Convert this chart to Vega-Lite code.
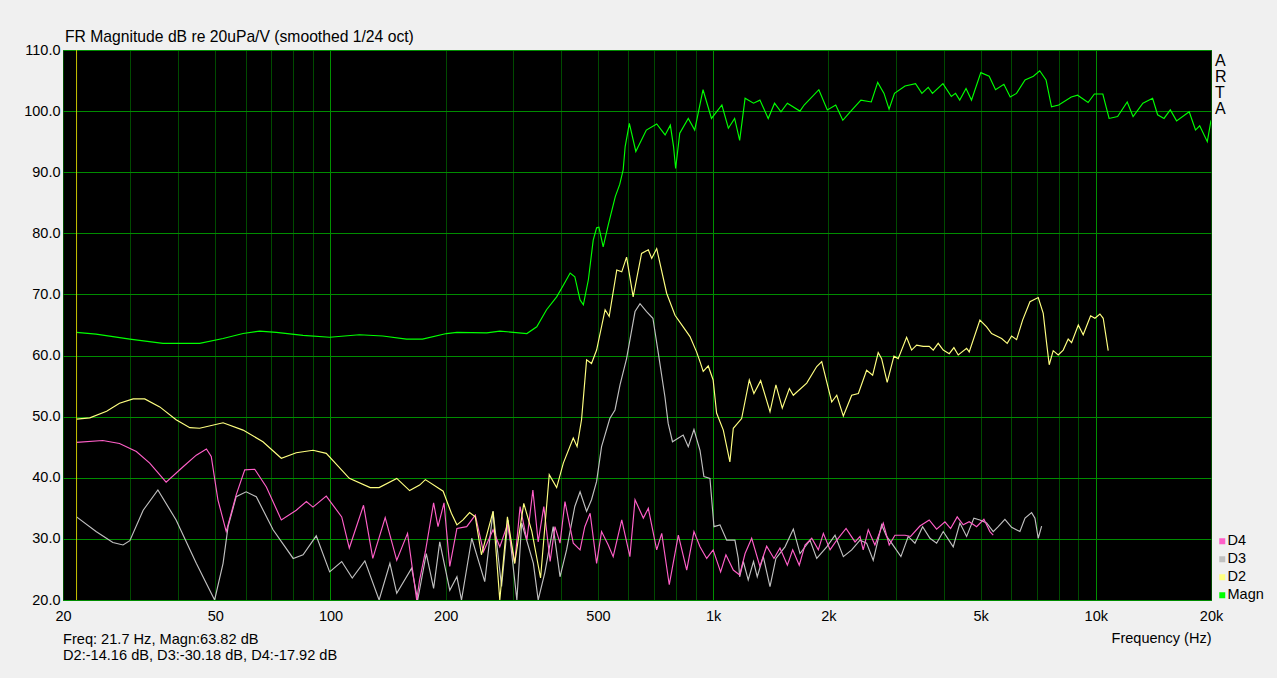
{
"$schema": "https://vega.github.io/schema/vega-lite/v6.json",
"width": 1148, "height": 550,
"autosize": {"type": "none"},
"padding": {"left": 63, "top": 50, "right": 66, "bottom": 78},
"background": "#f0f0f0",
"config": {
  "font": "Liberation Sans",
  "view": {"fill": "#000000", "stroke": "#008c00", "strokeWidth": 1},
  "axis": {"domain": false, "ticks": false, "tickSize": 0, "labelFontSize": 14.5, "labelColor": "#000000", "labelFont": "Liberation Sans", "titleFont": "Liberation Sans", "titleFontSize": 14.5, "titleFontWeight": "normal", "titleColor": "#000000", "gridOpacity": 1, "gridWidth": 1}
},
"title": {"text": "FR Magnitude dB re 20uPa/V (smoothed 1/24 oct)", "anchor": "start", "frame": "group", "fontSize": 15.7, "fontWeight": "normal", "color": "#000000", "offset": -4, "dx": 2, "font": "Liberation Sans"},
"datasets": {
"curves": [
{"s":"D3","f":21.7,"db":33.6},{"s":"D3","f":24.4,"db":31.2},{"s":"D3","f":27.0,"db":29.4},{"s":"D3","f":28.7,"db":29.0},{"s":"D3","f":29.9,"db":29.7},{"s":"D3","f":32.4,"db":34.7},{"s":"D3","f":35.4,"db":38.0},{"s":"D3","f":39.5,"db":33.1},{"s":"D3","f":44.6,"db":26.0},{"s":"D3","f":49.8,"db":20},{"s":"D3","f":52.4,"db":26.0},{"s":"D3","f":54.0,"db":32.0},{"s":"D3","f":56.7,"db":36.9},{"s":"D3","f":60.2,"db":37.7},{"s":"D3","f":64.0,"db":36.9},{"s":"D3","f":70.8,"db":31.5},{"s":"D3","f":79.9,"db":26.8},{"s":"D3","f":84.8,"db":27.4},{"s":"D3","f":91.8,"db":30.5},{"s":"D3","f":99.5,"db":24.6},{"s":"D3","f":107,"db":26.3},{"s":"D3","f":114,"db":23.6},{"s":"D3","f":123,"db":26.4},{"s":"D3","f":134,"db":20},{"s":"D3","f":143,"db":26.0},{"s":"D3","f":149,"db":21.1},{"s":"D3","f":163,"db":25.2},{"s":"D3","f":169,"db":20},{"s":"D3","f":178,"db":27.6},{"s":"D3","f":186,"db":21.9},{"s":"D3","f":193,"db":29.5},{"s":"D3","f":205,"db":21.6},{"s":"D3","f":214,"db":23.8},{"s":"D3","f":220,"db":20},{"s":"D3","f":234,"db":30.1},{"s":"D3","f":253,"db":23.0},{"s":"D3","f":266,"db":34.5},{"s":"D3","f":280,"db":22.2},{"s":"D3","f":291,"db":33.1},{"s":"D3","f":307,"db":20},{"s":"D3","f":316,"db":32.6},{"s":"D3","f":339,"db":26.0},{"s":"D3","f":349,"db":20},{"s":"D3","f":363,"db":24.4},{"s":"D3","f":382,"db":32.0},{"s":"D3","f":398,"db":23.8},{"s":"D3","f":414,"db":28.2},{"s":"D3","f":435,"db":35.3},{"s":"D3","f":449,"db":37.7},{"s":"D3","f":467,"db":34.5},{"s":"D3","f":481,"db":36.4},{"s":"D3","f":496,"db":39.4},{"s":"D3","f":511,"db":45.1},{"s":"D3","f":537,"db":49.7},{"s":"D3","f":554,"db":51.1},{"s":"D3","f":571,"db":55.2},{"s":"D3","f":594,"db":59.5},{"s":"D3","f":625,"db":67.2},{"s":"D3","f":644,"db":68.5},{"s":"D3","f":670,"db":67.2},{"s":"D3","f":696,"db":66.1},{"s":"D3","f":719,"db":60.4},{"s":"D3","f":748,"db":53.3},{"s":"D3","f":763,"db":48.9},{"s":"D3","f":783,"db":45.9},{"s":"D3","f":835,"db":47.0},{"s":"D3","f":861,"db":45.1},{"s":"D3","f":891,"db":47.9},{"s":"D3","f":924,"db":44.5},{"s":"D3","f":946,"db":40.2},{"s":"D3","f":981,"db":39.9},{"s":"D3","f":1005,"db":32.0},{"s":"D3","f":1042,"db":32.3},{"s":"D3","f":1085,"db":29.8},{"s":"D3","f":1140,"db":29.8},{"s":"D3","f":1163,"db":26.8},{"s":"D3","f":1173,"db":23.8},{"s":"D3","f":1199,"db":26.3},{"s":"D3","f":1235,"db":23.3},{"s":"D3","f":1275,"db":26.3},{"s":"D3","f":1304,"db":23.8},{"s":"D3","f":1352,"db":27.1},{"s":"D3","f":1408,"db":22.2},{"s":"D3","f":1459,"db":26.8},{"s":"D3","f":1541,"db":28.7},{"s":"D3","f":1620,"db":31.6},{"s":"D3","f":1687,"db":27.6},{"s":"D3","f":1791,"db":29.8},{"s":"D3","f":1865,"db":26.8},{"s":"D3","f":1981,"db":28.7},{"s":"D3","f":2082,"db":30.6},{"s":"D3","f":2189,"db":27.1},{"s":"D3","f":2302,"db":28.2},{"s":"D3","f":2420,"db":29.8},{"s":"D3","f":2518,"db":29.3},{"s":"D3","f":2620,"db":26.5},{"s":"D3","f":2756,"db":32.3},{"s":"D3","f":2840,"db":30.4},{"s":"D3","f":2927,"db":29.3},{"s":"D3","f":3095,"db":27.1},{"s":"D3","f":3234,"db":30.4},{"s":"D3","f":3368,"db":29.3},{"s":"D3","f":3527,"db":32.0},{"s":"D3","f":3686,"db":30.1},{"s":"D3","f":3837,"db":29.3},{"s":"D3","f":3993,"db":31.2},{"s":"D3","f":4240,"db":28.7},{"s":"D3","f":4414,"db":32.6},{"s":"D3","f":4596,"db":30.4},{"s":"D3","f":4802,"db":33.4},{"s":"D3","f":4979,"db":33.1},{"s":"D3","f":5184,"db":32.6},{"s":"D3","f":5394,"db":31.2},{"s":"D3","f":5559,"db":32.0},{"s":"D3","f":5787,"db":33.2},{"s":"D3","f":6025,"db":31.9},{"s":"D3","f":6334,"db":31.2},{"s":"D3","f":6532,"db":33.4},{"s":"D3","f":6796,"db":34.3},{"s":"D3","f":6933,"db":33.4},{"s":"D3","f":7072,"db":30.1},{"s":"D3","f":7218,"db":32.1},
{"s":"D4","f":21.7,"db":45.8},{"s":"D4","f":25.4,"db":46.1},{"s":"D4","f":28.1,"db":45.6},{"s":"D4","f":31.1,"db":44.3},{"s":"D4","f":33.7,"db":42.4},{"s":"D4","f":37.2,"db":39.3},{"s":"D4","f":41.2,"db":41.8},{"s":"D4","f":44.6,"db":43.7},{"s":"D4","f":47.4,"db":44.7},{"s":"D4","f":48.8,"db":43.5},{"s":"D4","f":50.8,"db":36.4},{"s":"D4","f":53.4,"db":31.2},{"s":"D4","f":56.7,"db":37.2},{"s":"D4","f":59.7,"db":41.3},{"s":"D4","f":63.4,"db":41.4},{"s":"D4","f":68.0,"db":38.5},{"s":"D4","f":74.4,"db":33.1},{"s":"D4","f":81.4,"db":34.7},{"s":"D4","f":86.5,"db":36.1},{"s":"D4","f":90,"db":35.2},{"s":"D4","f":97.5,"db":37.0},{"s":"D4","f":107,"db":33.6},{"s":"D4","f":112,"db":28.5},{"s":"D4","f":122,"db":35.5},{"s":"D4","f":129,"db":26.8},{"s":"D4","f":139,"db":33.5},{"s":"D4","f":149,"db":26.5},{"s":"D4","f":159,"db":30.9},{"s":"D4","f":168,"db":20},{"s":"D4","f":171,"db":23.3},{"s":"D4","f":177,"db":27.9},{"s":"D4","f":186,"db":35.9},{"s":"D4","f":191,"db":32.0},{"s":"D4","f":198,"db":35.9},{"s":"D4","f":205,"db":25.5},{"s":"D4","f":214,"db":31.7},{"s":"D4","f":227,"db":32.0},{"s":"D4","f":239,"db":33.9},{"s":"D4","f":251,"db":27.9},{"s":"D4","f":266,"db":31.5},{"s":"D4","f":277,"db":28.7},{"s":"D4","f":290,"db":32.3},{"s":"D4","f":303,"db":26.0},{"s":"D4","f":313,"db":35.3},{"s":"D4","f":326,"db":29.8},{"s":"D4","f":338,"db":38.0},{"s":"D4","f":349,"db":29.5},{"s":"D4","f":361,"db":35.3},{"s":"D4","f":375,"db":26.3},{"s":"D4","f":386,"db":32.0},{"s":"D4","f":398,"db":29.3},{"s":"D4","f":410,"db":36.1},{"s":"D4","f":431,"db":29.3},{"s":"D4","f":449,"db":28.2},{"s":"D4","f":462,"db":32.0},{"s":"D4","f":477,"db":34.2},{"s":"D4","f":496,"db":26.0},{"s":"D4","f":511,"db":31.2},{"s":"D4","f":532,"db":29.0},{"s":"D4","f":548,"db":27.1},{"s":"D4","f":577,"db":33.1},{"s":"D4","f":606,"db":27.1},{"s":"D4","f":625,"db":36.4},{"s":"D4","f":657,"db":33.4},{"s":"D4","f":677,"db":35.0},{"s":"D4","f":712,"db":28.2},{"s":"D4","f":734,"db":30.9},{"s":"D4","f":768,"db":22.5},{"s":"D4","f":811,"db":30.6},{"s":"D4","f":853,"db":24.9},{"s":"D4","f":891,"db":31.2},{"s":"D4","f":924,"db":28.7},{"s":"D4","f":962,"db":26.8},{"s":"D4","f":1000,"db":28.2},{"s":"D4","f":1046,"db":24.6},{"s":"D4","f":1080,"db":27.4},{"s":"D4","f":1129,"db":24.9},{"s":"D4","f":1173,"db":24.1},{"s":"D4","f":1212,"db":27.6},{"s":"D4","f":1261,"db":30.1},{"s":"D4","f":1325,"db":25.5},{"s":"D4","f":1380,"db":28.8},{"s":"D4","f":1442,"db":26.8},{"s":"D4","f":1495,"db":28.5},{"s":"D4","f":1563,"db":25.7},{"s":"D4","f":1614,"db":28.2},{"s":"D4","f":1679,"db":25.7},{"s":"D4","f":1738,"db":29.0},{"s":"D4","f":1810,"db":30.1},{"s":"D4","f":1883,"db":28.2},{"s":"D4","f":1941,"db":30.9},{"s":"D4","f":2021,"db":28.2},{"s":"D4","f":2104,"db":29.8},{"s":"D4","f":2225,"db":31.7},{"s":"D4","f":2349,"db":29.5},{"s":"D4","f":2420,"db":30.4},{"s":"D4","f":2467,"db":28.2},{"s":"D4","f":2543,"db":31.5},{"s":"D4","f":2647,"db":29.0},{"s":"D4","f":2783,"db":32.6},{"s":"D4","f":2885,"db":29.0},{"s":"D4","f":2986,"db":30.6},{"s":"D4","f":3173,"db":30.6},{"s":"D4","f":3281,"db":30.4},{"s":"D4","f":3470,"db":32.1},{"s":"D4","f":3670,"db":33.1},{"s":"D4","f":3837,"db":31.6},{"s":"D4","f":4034,"db":32.8},{"s":"D4","f":4174,"db":31.7},{"s":"D4","f":4343,"db":33.6},{"s":"D4","f":4503,"db":32.3},{"s":"D4","f":4668,"db":32.8},{"s":"D4","f":4881,"db":32.0},{"s":"D4","f":5100,"db":33.2},{"s":"D4","f":5288,"db":31.2},{"s":"D4","f":5394,"db":30.6},
{"s":"D2","f":21.7,"db":49.6},{"s":"D2","f":23.5,"db":49.8},{"s":"D2","f":26.0,"db":50.9},{"s":"D2","f":28.1,"db":52.2},{"s":"D2","f":30.5,"db":52.9},{"s":"D2","f":32.7,"db":52.9},{"s":"D2","f":35.8,"db":51.6},{"s":"D2","f":39.5,"db":49.5},{"s":"D2","f":42.9,"db":48.2},{"s":"D2","f":45.5,"db":48.1},{"s":"D2","f":52.4,"db":49.0},{"s":"D2","f":59.1,"db":47.8},{"s":"D2","f":66.6,"db":45.9},{"s":"D2","f":74.4,"db":43.2},{"s":"D2","f":81.4,"db":44.1},{"s":"D2","f":90,"db":44.5},{"s":"D2","f":97.5,"db":44.0},{"s":"D2","f":112,"db":39.9},{"s":"D2","f":127,"db":38.4},{"s":"D2","f":134,"db":38.4},{"s":"D2","f":149,"db":39.9},{"s":"D2","f":161,"db":37.9},{"s":"D2","f":171,"db":38.8},{"s":"D2","f":177,"db":39.7},{"s":"D2","f":197,"db":37.8},{"s":"D2","f":207,"db":34.2},{"s":"D2","f":214,"db":32.3},{"s":"D2","f":222,"db":33.1},{"s":"D2","f":231,"db":34.3},{"s":"D2","f":239,"db":33.6},{"s":"D2","f":248,"db":27.4},{"s":"D2","f":266,"db":34.5},{"s":"D2","f":277,"db":20},{"s":"D2","f":290,"db":33.6},{"s":"D2","f":303,"db":26.0},{"s":"D2","f":320,"db":35.8},{"s":"D2","f":336,"db":31.2},{"s":"D2","f":354,"db":23.6},{"s":"D2","f":373,"db":40.5},{"s":"D2","f":390,"db":38.4},{"s":"D2","f":406,"db":42.4},{"s":"D2","f":431,"db":46.5},{"s":"D2","f":441,"db":45.1},{"s":"D2","f":453,"db":49.5},{"s":"D2","f":467,"db":59.3},{"s":"D2","f":481,"db":58.7},{"s":"D2","f":496,"db":60.9},{"s":"D2","f":522,"db":67.5},{"s":"D2","f":535,"db":66.4},{"s":"D2","f":560,"db":74.0},{"s":"D2","f":577,"db":73.7},{"s":"D2","f":594,"db":76.1},{"s":"D2","f":618,"db":69.6},{"s":"D2","f":650,"db":76.7},{"s":"D2","f":677,"db":77.3},{"s":"D2","f":691,"db":75.9},{"s":"D2","f":712,"db":77.5},{"s":"D2","f":756,"db":70.2},{"s":"D2","f":795,"db":66.6},{"s":"D2","f":835,"db":64.7},{"s":"D2","f":870,"db":63.1},{"s":"D2","f":905,"db":60.6},{"s":"D2","f":924,"db":59.0},{"s":"D2","f":942,"db":57.4},{"s":"D2","f":971,"db":58.3},{"s":"D2","f":1000,"db":56.0},{"s":"D2","f":1021,"db":50.6},{"s":"D2","f":1063,"db":47.8},{"s":"D2","f":1106,"db":42.6},{"s":"D2","f":1129,"db":48.1},{"s":"D2","f":1187,"db":49.7},{"s":"D2","f":1243,"db":56.0},{"s":"D2","f":1278,"db":53.8},{"s":"D2","f":1331,"db":55.9},{"s":"D2","f":1408,"db":50.8},{"s":"D2","f":1459,"db":55.2},{"s":"D2","f":1516,"db":51.4},{"s":"D2","f":1582,"db":54.6},{"s":"D2","f":1620,"db":53.5},{"s":"D2","f":1756,"db":55.5},{"s":"D2","f":1865,"db":58.2},{"s":"D2","f":1922,"db":59.0},{"s":"D2","f":2041,"db":52.4},{"s":"D2","f":2104,"db":53.5},{"s":"D2","f":2189,"db":50.1},{"s":"D2","f":2302,"db":53.5},{"s":"D2","f":2396,"db":53.8},{"s":"D2","f":2518,"db":57.6},{"s":"D2","f":2611,"db":56.8},{"s":"D2","f":2700,"db":60.5},{"s":"D2","f":2756,"db":59.5},{"s":"D2","f":2850,"db":55.6},{"s":"D2","f":2968,"db":59.9},{"s":"D2","f":3045,"db":59.5},{"s":"D2","f":3203,"db":63.0},{"s":"D2","f":3301,"db":60.9},{"s":"D2","f":3402,"db":61.7},{"s":"D2","f":3540,"db":61.5},{"s":"D2","f":3670,"db":61.5},{"s":"D2","f":3760,"db":60.9},{"s":"D2","f":3874,"db":62.0},{"s":"D2","f":3993,"db":60.9},{"s":"D2","f":4140,"db":60.3},{"s":"D2","f":4258,"db":61.3},{"s":"D2","f":4370,"db":60.1},{"s":"D2","f":4596,"db":61.2},{"s":"D2","f":4668,"db":60.6},{"s":"D2","f":4979,"db":65.8},{"s":"D2","f":5184,"db":64.7},{"s":"D2","f":5342,"db":63.6},{"s":"D2","f":5674,"db":62.8},{"s":"D2","f":5868,"db":62.0},{"s":"D2","f":6025,"db":63.2},{"s":"D2","f":6209,"db":62.6},{"s":"D2","f":6438,"db":65.8},{"s":"D2","f":6728,"db":68.8},{"s":"D2","f":7072,"db":69.5},{"s":"D2","f":7288,"db":66.9},{"s":"D2","f":7439,"db":62.0},{"s":"D2","f":7555,"db":58.5},{"s":"D2","f":7739,"db":60.8},{"s":"D2","f":7976,"db":60.1},{"s":"D2","f":8219,"db":60.9},{"s":"D2","f":8469,"db":62.7},{"s":"D2","f":8644,"db":62.1},{"s":"D2","f":9000,"db":65.0},{"s":"D2","f":9269,"db":63.4},{"s":"D2","f":9692,"db":66.5},{"s":"D2","f":9946,"db":66.1},{"s":"D2","f":10250,"db":66.8},{"s":"D2","f":10455,"db":66.1},{"s":"D2","f":10775,"db":60.8},
{"s":"Magn","f":21.7,"db":63.8},{"s":"Magn","f":24.4,"db":63.5},{"s":"Magn","f":29.9,"db":62.7},{"s":"Magn","f":36.5,"db":62.0},{"s":"Magn","f":45.5,"db":62.0},{"s":"Magn","f":52.4,"db":62.8},{"s":"Magn","f":59.1,"db":63.6},{"s":"Magn","f":65.3,"db":64.0},{"s":"Magn","f":72.2,"db":63.8},{"s":"Magn","f":84.8,"db":63.3},{"s":"Magn","f":99.5,"db":63.0},{"s":"Magn","f":119,"db":63.4},{"s":"Magn","f":137,"db":63.2},{"s":"Magn","f":158,"db":62.7},{"s":"Magn","f":174,"db":62.7},{"s":"Magn","f":201,"db":63.6},{"s":"Magn","f":214,"db":63.8},{"s":"Magn","f":256,"db":63.7},{"s":"Magn","f":277,"db":64.0},{"s":"Magn","f":326,"db":63.6},{"s":"Magn","f":346,"db":64.7},{"s":"Magn","f":367,"db":67.5},{"s":"Magn","f":390,"db":69.6},{"s":"Magn","f":406,"db":71.5},{"s":"Magn","f":423,"db":73.5},{"s":"Magn","f":435,"db":72.9},{"s":"Magn","f":449,"db":69.1},{"s":"Magn","f":458,"db":68.3},{"s":"Magn","f":472,"db":72.4},{"s":"Magn","f":486,"db":78.9},{"s":"Magn","f":496,"db":80.9},{"s":"Magn","f":503,"db":81.0},{"s":"Magn","f":516,"db":77.8},{"s":"Magn","f":532,"db":81.4},{"s":"Magn","f":555,"db":86.0},{"s":"Magn","f":570,"db":88.0},{"s":"Magn","f":582,"db":90.4},{"s":"Magn","f":589,"db":94.2},{"s":"Magn","f":604,"db":98.0},{"s":"Magn","f":628,"db":93.4},{"s":"Magn","f":669,"db":96.9},{"s":"Magn","f":712,"db":97.9},{"s":"Magn","f":749,"db":96.1},{"s":"Magn","f":773,"db":97.7},{"s":"Magn","f":788,"db":94.2},{"s":"Magn","f":798,"db":90.6},{"s":"Magn","f":818,"db":96.4},{"s":"Magn","f":861,"db":98.8},{"s":"Magn","f":895,"db":96.9},{"s":"Magn","f":941,"db":103.5},{"s":"Magn","f":990,"db":98.8},{"s":"Magn","f":1054,"db":101.0},{"s":"Magn","f":1096,"db":97.2},{"s":"Magn","f":1138,"db":98.8},{"s":"Magn","f":1173,"db":95.2},{"s":"Magn","f":1212,"db":102.1},{"s":"Magn","f":1275,"db":101.3},{"s":"Magn","f":1325,"db":101.8},{"s":"Magn","f":1393,"db":98.8},{"s":"Magn","f":1447,"db":101.3},{"s":"Magn","f":1504,"db":99.9},{"s":"Magn","f":1563,"db":101.3},{"s":"Magn","f":1686,"db":100.0},{"s":"Magn","f":1729,"db":101.0},{"s":"Magn","f":1889,"db":103.5},{"s":"Magn","f":1988,"db":100.2},{"s":"Magn","f":2091,"db":101.0},{"s":"Magn","f":2182,"db":98.5},{"s":"Magn","f":2284,"db":99.9},{"s":"Magn","f":2433,"db":101.8},{"s":"Magn","f":2590,"db":101.5},{"s":"Magn","f":2692,"db":104.7},{"s":"Magn","f":2796,"db":102.9},{"s":"Magn","f":2882,"db":100.3},{"s":"Magn","f":2978,"db":102.9},{"s":"Magn","f":3173,"db":104.1},{"s":"Magn","f":3380,"db":104.5},{"s":"Magn","f":3512,"db":102.9},{"s":"Magn","f":3648,"db":103.9},{"s":"Magn","f":3742,"db":102.9},{"s":"Magn","f":3986,"db":104.5},{"s":"Magn","f":4192,"db":102.4},{"s":"Magn","f":4300,"db":102.9},{"s":"Magn","f":4410,"db":101.8},{"s":"Magn","f":4580,"db":103.7},{"s":"Magn","f":4733,"db":101.8},{"s":"Magn","f":5006,"db":106.3},{"s":"Magn","f":5265,"db":105.7},{"s":"Magn","f":5469,"db":103.5},{"s":"Magn","f":5752,"db":104.4},{"s":"Magn","f":5975,"db":102.3},{"s":"Magn","f":6206,"db":102.9},{"s":"Magn","f":6532,"db":105.1},{"s":"Magn","f":6870,"db":105.7},{"s":"Magn","f":7136,"db":106.6},{"s":"Magn","f":7412,"db":105.1},{"s":"Magn","f":7661,"db":100.7},{"s":"Magn","f":8000,"db":101.0},{"s":"Magn","f":8628,"db":102.3},{"s":"Magn","f":8962,"db":102.6},{"s":"Magn","f":9547,"db":101.4},{"s":"Magn","f":9916,"db":102.8},{"s":"Magn","f":10430,"db":102.8},{"s":"Magn","f":10833,"db":98.8},{"s":"Magn","f":11402,"db":99.1},{"s":"Magn","f":12080,"db":101.5},{"s":"Magn","f":12516,"db":99.1},{"s":"Magn","f":13276,"db":101.3},{"s":"Magn","f":14074,"db":102.1},{"s":"Magn","f":14504,"db":99.4},{"s":"Magn","f":15074,"db":98.8},{"s":"Magn","f":15656,"db":100.2},{"s":"Magn","f":16260,"db":98.4},{"s":"Magn","f":17542,"db":99.9},{"s":"Magn","f":18218,"db":96.9},{"s":"Magn","f":18686,"db":97.6},{"s":"Magn","f":19560,"db":95.0},{"s":"Magn","f":20000,"db":98.5}
]
},
"layer": [
{
  "data": {"name": "curves"},
  "mark": {"type": "line", "strokeWidth": 1.15, "clip": true, "interpolate": "linear"},
  "encoding": {
    "x": {"field": "f", "type": "quantitative",
      "scale": {"type": "log", "domain": [20, 20000], "nice": false},
      "axis": {"values": [20,30,40,50,60,70,80,90,100,200,300,400,500,600,700,800,900,1000,2000,3000,4000,5000,6000,7000,8000,9000,10000,20000],
        "grid": true,
        "gridColor": {"condition": {"test": "datum.value == 100 || datum.value == 1000 || datum.value == 10000", "value": "#009000"}, "value": "#004a00"},
        "labelExpr": "indexof([20,50,100,200,500,1000,2000,5000,10000,20000], datum.value) >= 0 ? (datum.value >= 1000 ? (datum.value/1000) + 'k' : '' + datum.value) : ''",
        "labelPadding": 9, "labelFlush": false, "labelOverlap": false, "labelBound": false,
        "title": "Frequency (Hz)", "titleAnchor": "end", "titlePadding": 9, "zindex": 0}},
    "y": {"field": "db", "type": "quantitative",
      "scale": {"domain": [20, 110], "nice": false, "zero": false},
      "axis": {"values": [20,30,40,50,60,70,80,90,100,110], "format": ".1f", "grid": true, "gridColor": "#008c00", "labelPadding": 3, "title": null, "zindex": 0}},
    "color": {"field": "s", "type": "nominal",
      "scale": {"domain": ["D4","D3","D2","Magn"], "range": ["#ff5fc8","#c0c0c0","#ffff80","#00ff00"]},
      "legend": {"title": null, "orient": "none", "legendX": 1152, "legendY": 484, "padding": 0,
        "symbolType": "square", "symbolSize": 36, "symbolStrokeWidth": 0,
        "labelFontSize": 14.5, "labelColor": "#000000", "labelOffset": -2, "rowPadding": 3, "labelFont": "Liberation Sans",
        "encode": {"symbols": {"update": {"fill": {"scale": "color", "field": "value"}, "strokeWidth": {"value": 0}, "opacity": {"value": 1}}}}}}
  }
},
{
  "data": {"values": [{"f": 21.7}]},
  "mark": {"type": "rule", "color": "#c8c400", "strokeWidth": 1},
  "encoding": {"x": {"field": "f", "type": "quantitative"}}
},
{
  "data": {"values": [{"f": 20000, "db": 110, "t": "A\nR\nT\nA"}]},
  "mark": {"type": "text", "align": "left", "baseline": "top", "dx": 4, "dy": 2.5, "fontSize": 16, "lineHeight": 16, "lineBreak": "\n", "color": "#000000", "font": "Liberation Sans"},
  "encoding": {"x": {"field": "f", "type": "quantitative"}, "y": {"field": "db", "type": "quantitative"}, "text": {"field": "t"}}
},
{
  "data": {"values": [{"f": 20, "db": 20, "t": "Freq: 21.7 Hz, Magn:63.82 dB\nD2:-14.16 dB, D3:-30.18 dB, D4:-17.92 dB"}]},
  "mark": {"type": "text", "align": "left", "baseline": "alphabetic", "dx": 0, "dy": 43.5, "fontSize": 14.6, "lineHeight": 16.5, "lineBreak": "\n", "color": "#000000", "font": "Liberation Sans"},
  "encoding": {"x": {"field": "f", "type": "quantitative"}, "y": {"field": "db", "type": "quantitative"}, "text": {"field": "t"}}
}
]
}
